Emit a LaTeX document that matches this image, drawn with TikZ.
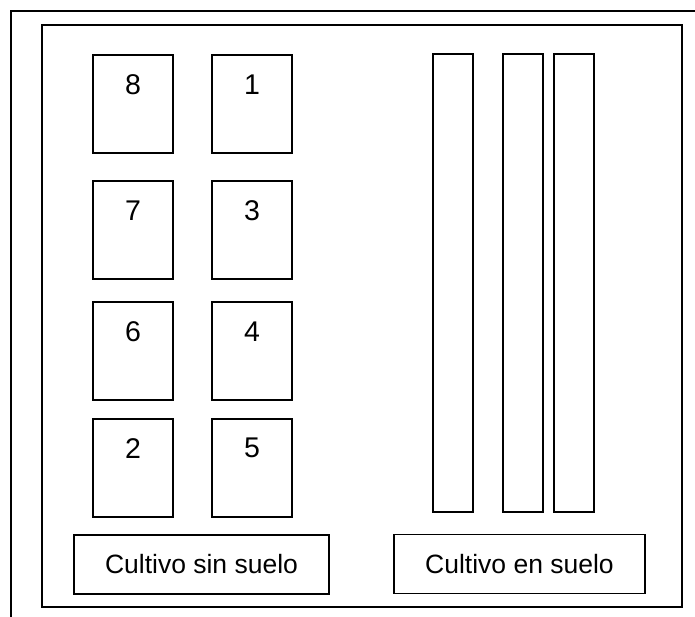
\documentclass[tikz,border=0pt]{standalone}
\usepackage{fontspec}
\setmainfont{Liberation Sans}
\begin{document}
\begin{tikzpicture}[x=1pt,y=-1pt,
  plot/.style={draw, line width=1.5pt, rectangle, minimum width=80pt, minimum height=98pt, inner sep=0pt},
  strip/.style={draw, line width=1.5pt, rectangle, minimum width=40pt, minimum height=458pt, inner sep=0pt},
  lbl/.style={draw, line width=1.5pt, rectangle, minimum width=251pt, minimum height=59pt, inner sep=0pt, font=\fontsize{26.5}{30}\selectfont},
  num/.style={font=\fontsize{28.5}{32}\selectfont, inner sep=0pt}]
\useasboundingbox (0,0) rectangle (695,616);
\coordinate (fa) at (11,640);
\coordinate (fb) at (11,11);
\coordinate (fc) at (720,11);
\draw[line width=2pt] (fa) -- (fb) -- (fc);
\node[draw, line width=1.5pt, rectangle, minimum width=640pt, minimum height=582pt, inner sep=0pt] (inner) at (362,316) {};
% plots
\node[plot] (p8) at (133,104) {};
\node[plot] (p1) at (252,104) {};
\node[plot] (p7) at (133,230) {};
\node[plot] (p3) at (252,230) {};
\node[plot] (p6) at (133,351) {};
\node[plot] (p4) at (252,351) {};
\node[plot] (p2) at (133,468) {};
\node[plot] (p5) at (252,468) {};
\foreach \n in {8,1,7,3,6,4,2,5}{
  \node[num, anchor=center] (t\n) at ([yshift=-30pt]p\n.north) {\n};
}
% strips
\node[strip] (s1) at (453,283) {};
\node[strip] (s2) at (523,283) {};
\node[strip] (s3) at (574,283) {};
% labels
\node[lbl, minimum width=255pt] (l1) at (201.5,564.5) {Cultivo sin suelo};
\node[lbl] (l2) at (519.5,564) {Cultivo en suelo};
\end{tikzpicture}
\end{document}
